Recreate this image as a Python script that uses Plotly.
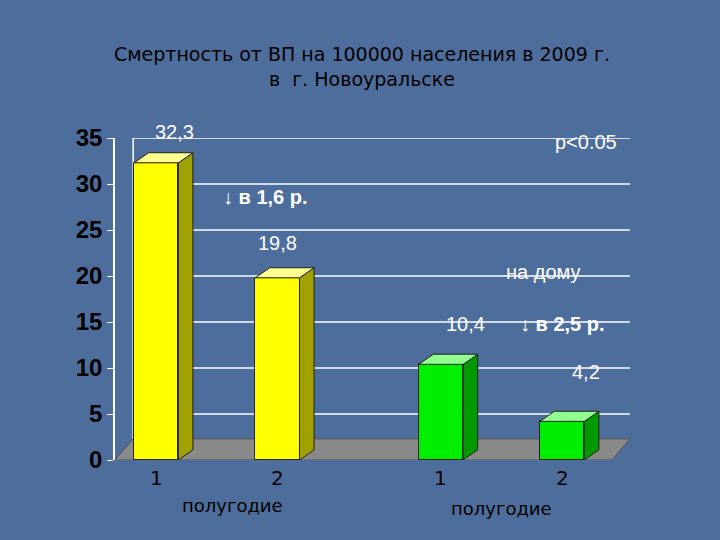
import plotly.graph_objects as go

positions = [0, 1, 2.35, 3.35]
values = [32.3, 19.8, 10.4, 4.2]
value_labels = ["32,3", "19,8", "10,4", "4,2"]
front_colors = ["#ffff00", "#ffff00", "#00ee00", "#00ee00"]
side_colors = ["#a0a000", "#a0a000", "#009a00", "#009a00"]
top_colors = ["#ffff90", "#ffff90", "#90ff90", "#90ff90"]
y_ticks = [0, 5, 10, 15, 20, 25, 30, 35]

W = 0.366
DX, DY = 0.12, 1.1
FX, FY = 0.15, 2.3
XMIN, XMAX = -0.34, 3.76

fig = go.Figure()
fig.add_trace(go.Bar(x=positions, y=values, width=W, marker=dict(color=front_colors, line=dict(color="#222", width=1)),
                     showlegend=False))
for p, v, sc, tc in zip(positions, values, side_colors, top_colors):
    r = p + W / 2
    l = p - W / 2
    fig.add_trace(go.Scatter(x=[r, r + DX, r + DX, r, r], y=[0, DY, v + DY, v, 0], fill="toself",
                             fillcolor=sc, line=dict(color="#222", width=1), mode="lines",
                             hoverinfo="skip", showlegend=False))
    fig.add_trace(go.Scatter(x=[l, r, r + DX, l + DX, l], y=[v, v, v + DY, v + DY, v], fill="toself",
                             fillcolor=tc, line=dict(color="#222", width=1), mode="lines",
                             hoverinfo="skip", showlegend=False))

shapes = [dict(type="path", xref="x", yref="y", layer="below",
               path=f"M {XMIN},0 L {XMAX},0 L {XMAX + FX},{FY} L {XMIN + FX},{FY} Z",
               fillcolor="#8a8a8a", line=dict(color="#555", width=1))]
for t in y_ticks[1:]:
    shapes.append(dict(type="line", xref="x", yref="y", x0=XMIN + FX, x1=XMAX + FX, y0=t, y1=t,
                       line=dict(color="white", width=1.5), layer="below"))
shapes.append(dict(type="line", xref="x", yref="y", x0=XMIN + FX, x1=XMIN + FX, y0=FY, y1=35,
                   line=dict(color="white", width=1.5), layer="below"))

wf = dict(family="Liberation Sans, Arial", size=20, color="white")
wb = dict(family="Liberation Sans, Arial", size=20, color="white", weight="bold")
ann = []
ann.append(dict(x=0.15, y=35, yshift=6, text=value_labels[0], showarrow=False, font=wf))
ann.append(dict(x=1.0, y=23.6, text=value_labels[1], showarrow=False, font=wf))
ann.append(dict(x=2.55, y=14.8, text=value_labels[2], showarrow=False, font=wf))
ann.append(dict(x=3.55, y=9.6, text=value_labels[3], showarrow=False, font=wf))
ann.append(dict(x=3.55, y=34.6, text="p<0.05", showarrow=False, font=wf))
ann.append(dict(x=0.9, y=28.6, text="↓ в 1,6 р.", showarrow=False, font=wb))
ann.append(dict(x=3.35, y=14.8, text="↓ в 2,5 р.", showarrow=False, font=wb))
ann.append(dict(x=3.2, y=20.4, text="на дому", showarrow=False, font=wf))
bf = dict(family="DejaVu Sans, Arial", size=20, color="black")
for p, lab in zip(positions, ["1", "2", "1", "2"]):
    ann.append(dict(x=p, xref="x", y=-0.1, yref="paper", text=lab, showarrow=False, font=bf))
ann.append(dict(x=0.63, xref="x", y=-0.18, yref="paper", text="полугодие", showarrow=False,
                font=dict(family="DejaVu Sans, Arial", size=18, color="black")))
ann.append(dict(x=2.85, xref="x", y=-0.19, yref="paper", text="полугодие", showarrow=False,
                font=dict(family="DejaVu Sans, Arial", size=18, color="black")))
ann.append(dict(x=0.48, xref="paper", y=1.3, yref="paper", showarrow=False,
                text="Смертность от ВП на 100000 населения в 2009 г.<br>в  г. Новоуральске",
                font=dict(family="DejaVu Sans, Arial", size=19, color="black")))

fig.update_layout(
    width=720, height=540,
    paper_bgcolor="#4d6d9c", plot_bgcolor="rgba(0,0,0,0)",
    margin=dict(l=115, r=90, t=138, b=80),
    xaxis=dict(range=[XMIN, XMAX + FX], showgrid=False, zeroline=False, showticklabels=False, fixedrange=True),
    yaxis=dict(range=[0, 35], tickvals=y_ticks, showgrid=False, zeroline=False,
               tickfont=dict(family="Liberation Sans, Arial", size=24, color="black", weight="bold"),
               ticks="outside", ticklen=6, tickcolor="white", showline=True, linecolor="white", linewidth=1.5),
    shapes=shapes, annotations=ann, bargap=0,
)
fig.write_html("out.html", post_script="document.body.style.margin='0';",
               config={"displayModeBar": False})
